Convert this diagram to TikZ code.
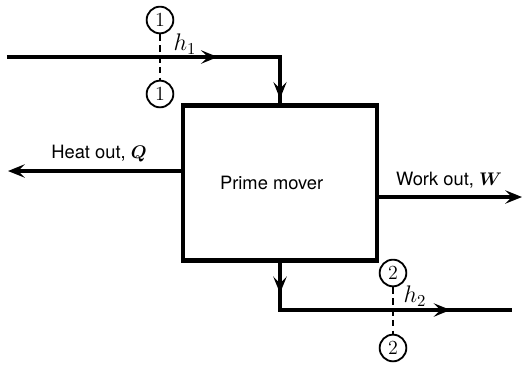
\documentclass[tikz,border=0pt]{standalone}
\usepackage{amsmath}
\usepackage{fontspec}
\setsansfont{TeX Gyre Heros}
\usetikzlibrary{arrows.meta,decorations.markings}

\tikzset{
  flowtip/.tip={Stealth[length=10pt,width=8pt,inset=4pt]},
  flow/.style={line width=1.9pt},
  station/.style={draw, circle, line width=1.1pt, minimum size=16pt,
                  inner sep=0pt, font=\rmfamily\large},
  cut/.style={line width=0.8pt, dash pattern=on 4pt off 2.5pt},
  flowlbl/.style={font=\sffamily\fontsize{11}{13}\selectfont},
}

\begin{document}
\begin{tikzpicture}[x=0.6pt, y=-0.6pt, >=flowtip, font=\sffamily]
    \useasboundingbox (0,0) rectangle (525,364);
    \node[draw, flowlbl, line width=2.5pt, minimum width=116pt, minimum height=93pt]
          (pm) at (280,183) {Prime mover\hspace*{10pt}};

    % inlet stream
    \coordinate (inA) at (7,57);
    \coordinate (inB) at (pm.north |- inA);
    \draw[flow, postaction={decorate}, decoration={markings,
          mark=at position 0.66 with {\arrow{flowtip}},
          mark=at position 0.985 with {\arrow{flowtip}}}]
          (inA) -- (inB) -- (pm.north);

    % outlet stream
    \coordinate (outB) at (pm.south |- 0,310);
    \coordinate (outC) at (512,310);
    \draw[flow, postaction={decorate}, decoration={markings,
          mark=at position 0.11 with {\arrow{flowtip}},
          mark=at position 0.78 with {\arrow{flowtip}}}]
          (pm.south) -- (outB) -- (outC);

    \coordinate (heatEnd) at (8,171);
    \draw[flow, ->] (pm.west |- heatEnd) -- (heatEnd);
    \node[flowlbl] (heatlbl) at (99,154) {Heat out, $\boldsymbol{Q}$};

    \coordinate (workEnd) at (522,197);
    \draw[flow, ->] (pm.east |- workEnd) -- (workEnd);
    \node[flowlbl] (worklbl) at (449,180) {Work out, $\boldsymbol{W}$};

    \node[station] (s1a) at (160,20) {1};
    \node[station] (s1b) at (160,94) {1};
    \draw[cut] (s1a) -- (s1b);
    \node[font=\Large] (h1) at (185,44) {$h_1$};

    \node[station] (s2a) at (393,273) {2};
    \node[station] (s2b) at (393,348) {2};
    \draw[cut] (s2a) -- (s2b);
    \node[font=\Large] (h2) at (415,296) {$h_2$};
\end{tikzpicture}
\end{document}
